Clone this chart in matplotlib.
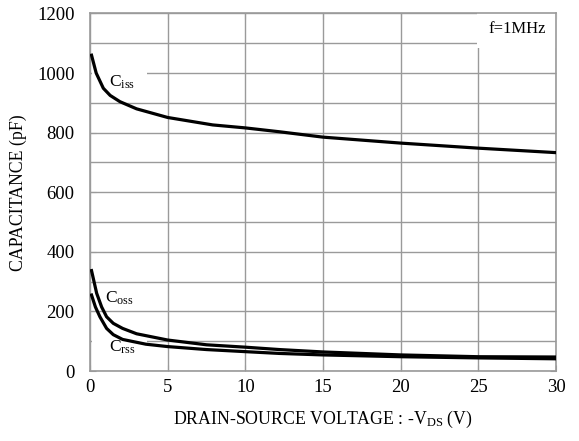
import matplotlib.pyplot as plt
from matplotlib.patches import Rectangle

plt.rcParams['font.family'] = 'Liberation Serif'
plt.rcParams['mathtext.fontset'] = 'custom'
plt.rcParams['mathtext.rm'] = 'Liberation Serif'
plt.rcParams['mathtext.it'] = 'Liberation Serif:italic'

# values
vds_ciss = [0.1, 0.4, 0.86, 1.3, 1.93, 3, 5, 7.9, 10, 12.2, 15, 20, 25, 30]
ciss = [1060, 1000, 949, 925, 904, 880, 851, 826, 816, 803, 785, 765, 748, 733]

vds_coss = [0.1, 0.43, 0.75, 1.07, 1.5, 2.1, 3, 5, 7.5, 10, 12.2, 15, 20, 25, 30]
coss = [337, 261, 215, 182, 160, 143, 125, 104, 88, 80, 72, 64, 54, 48, 47]

vds_crss = [0.1, 0.35, 0.64, 1.07, 1.5, 2.1, 3.6, 5, 7.5, 10, 12.2, 15, 20, 25, 30]
crss = [255, 215, 182, 143, 122, 106, 90, 82, 72, 65, 59, 54, 48, 44, 41]

xticks = [0, 5, 10, 15, 20, 25, 30]
yticks = [0, 200, 400, 600, 800, 1000, 1200]

fig = plt.figure(figsize=(5.79, 4.41), dpi=100)
ax = fig.add_axes([0.1554, 0.1587, 0.8049, 0.8107])

ax.plot(vds_ciss, ciss, color='black', lw=2.3, zorder=3)
ax.plot(vds_coss, coss, color='black', lw=2.3, zorder=3)
ax.plot(vds_crss, crss, color='black', lw=2.3, zorder=3)

ax.set_xlim(0, 30)
ax.set_ylim(0, 1200)
ax.set_xticks(xticks)
ax.set_yticks(yticks)
ax.set_yticks(range(0, 1201, 100), minor=True)
ax.grid(True, which='both', color='#9a9a9a', lw=1.0)
ax.set_axisbelow(True)
ax.tick_params(which='both', direction='in', length=4, color='#9a9a9a',
               labelsize=13.5, top=True, right=True)
ax.tick_params(axis='y', pad=11)
ax.tick_params(axis='x', pad=6)
for s in ax.spines.values():
    s.set_color('#9a9a9a')
    s.set_linewidth(1.2)

# white backgrounds of the curve labels (they hide part of the grid)
ax.add_patch(Rectangle((0.1, 925), 3.6, 95, facecolor='white', edgecolor='none', zorder=1.5))
ax.add_patch(Rectangle((0.1, 40), 3.6, 85, facecolor='white', edgecolor='none', zorder=1.5))

ax.text(2.08, 970, r'$\mathrm{C_{iss}}$', fontsize=12.5, va='center', ha='center', zorder=2)
ax.text(1.9, 245, r'$\mathrm{C_{oss}}$', fontsize=12.5, va='center', ha='center',
        bbox=dict(facecolor='white', edgecolor='none', pad=2), zorder=2)
ax.text(2.08, 80, r'$\mathrm{C_{rss}}$', fontsize=12.5, va='center', ha='center', zorder=2)
ax.text(27.5, 1147, 'f=1MHz', fontsize=12, va='center', ha='center',
        bbox=dict(facecolor='white', edgecolor='none', pad=8), zorder=2)

ax.set_xlabel(r'DRAIN-SOURCE VOLTAGE : -V$_{\mathrm{DS}}$ (V)', fontsize=12.8, labelpad=9)
ax.set_ylabel('CAPACITANCE (pF)', fontsize=12.8, labelpad=7)

fig.savefig('out.png', dpi=100)
